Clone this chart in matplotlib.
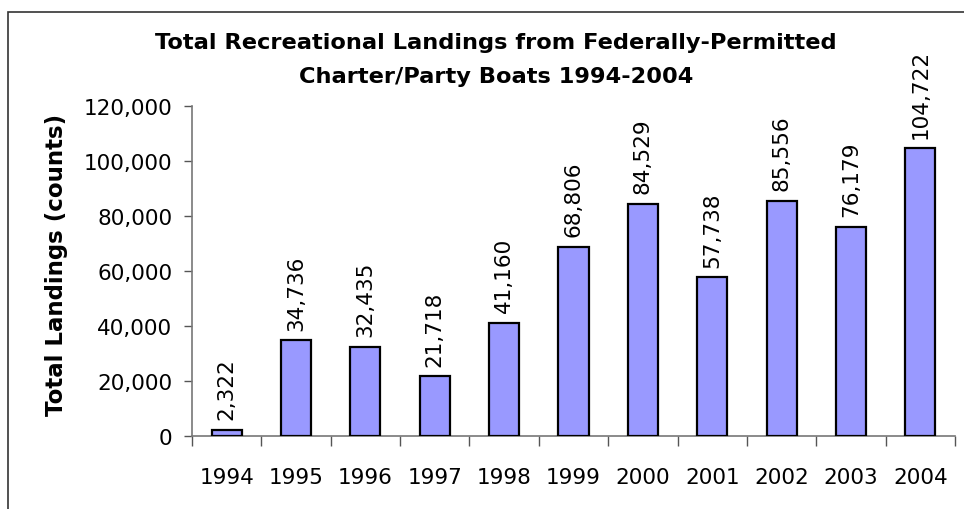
import matplotlib
matplotlib.use('Agg')
import matplotlib.pyplot as plt
import matplotlib.patches as patches
import numpy as np

years = ['1994', '1995', '1996', '1997', '1998', '1999',
         '2000', '2001', '2002', '2003', '2004']
landings = [2322, 34736, 32435, 21718, 41160, 68806,
            84529, 57738, 85556, 76179, 104722]
yticks = [0, 20000, 40000, 60000, 80000, 100000, 120000]

plt.rcParams['font.family'] = 'DejaVu Sans'

fig = plt.figure(figsize=(9.64, 5.10), dpi=100)
ax = fig.add_axes([192 / 964, 1 - 437 / 510, 763 / 964, 330 / 510])

# chart-area border (only left and top visible in the crop)
fig.patches.append(patches.Rectangle((8 / 964, -0.1), 1.2, 1 - 13 / 510 + 0.1,
                                     transform=fig.transFigure, fill=False,
                                     edgecolor='#333333', linewidth=1.2))

x = np.arange(len(years))
ax.bar(x, landings, width=0.435, color='#9999FF', edgecolor='black', linewidth=1.6,
       zorder=3)

for xi, v in zip(x, landings):
    ax.annotate('{:,}'.format(v), (xi, v), xytext=(0, 7.5), textcoords='offset points',
                rotation=90, ha='center', va='bottom', fontsize=15.5, color='black')

ax.set_xlim(-0.5, len(years) - 0.5)
ax.set_ylim(0, 120000)
ax.set_yticks(yticks)
ax.set_yticklabels(['{:,}'.format(t) for t in yticks], fontsize=15.5)

# x ticks between categories, labels centred
ax.set_xticks(np.arange(-0.5, len(years), 1.0))
ax.set_xticklabels([])
ax.set_xticks(x, minor=True)
ax.set_xticklabels(years, minor=True, fontsize=15.5)
ax.tick_params(axis='x', which='minor', length=0, pad=22)
ax.tick_params(axis='x', which='major', length=7, color='#555555', width=1)
ax.tick_params(axis='y', length=6, color='#555555', width=1, pad=8)

for s in ['top', 'right']:
    ax.spines[s].set_visible(False)
ax.spines['left'].set_color('#777777')
ax.spines['bottom'].set_color('#777777')
ax.spines['left'].set_linewidth(1.2)
ax.spines['bottom'].set_linewidth(1.2)

ax.set_ylabel('Total Landings (counts)', fontsize=16.5, fontweight='bold')
ax.yaxis.set_label_coords(-(192 - 56) / 763, (437 - 265) / 330)
ax.yaxis.label.set_va('center')

fig.text(496 / 964, 1 - 43 / 510,
         'Total Recreational Landings from Federally-Permitted',
         ha='center', va='center', fontsize=16.2, fontweight='bold')
fig.text(496 / 964, 1 - 77 / 510, 'Charter/Party Boats 1994-2004',
         ha='center', va='center', fontsize=16.2, fontweight='bold')

fig.savefig('out.png', dpi=100)
